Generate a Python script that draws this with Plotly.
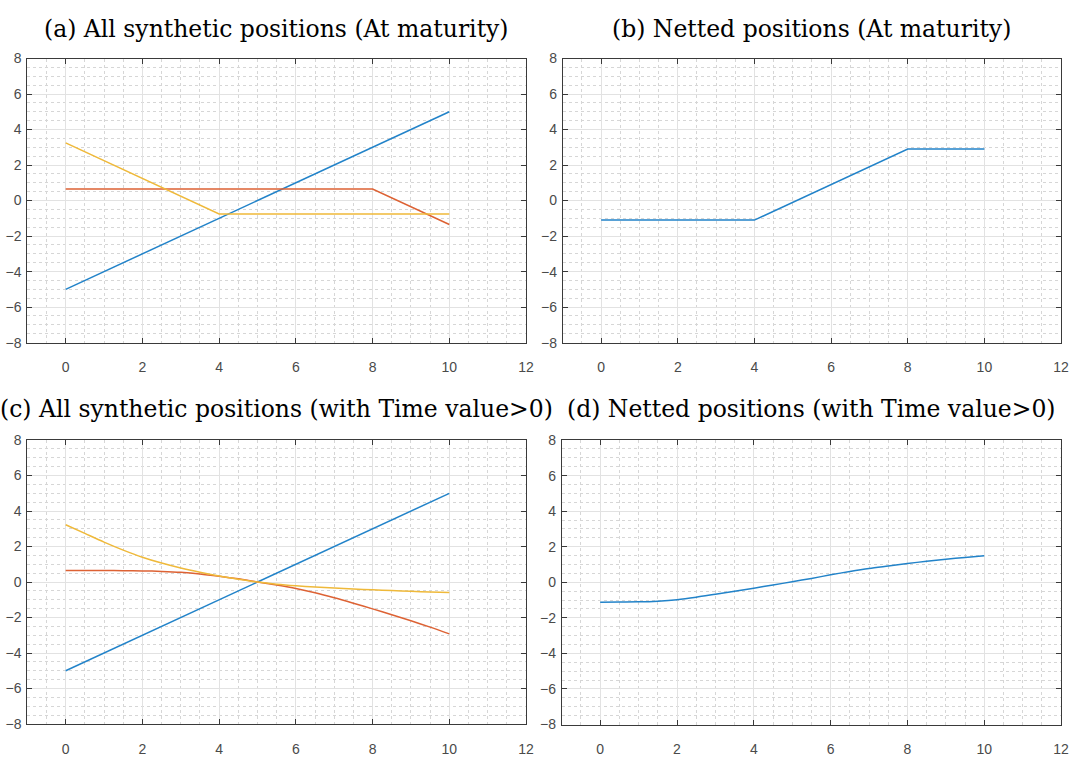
import plotly.graph_objects as go

# ---------------- data ----------------
# (a) At maturity
stock_x = [0, 10]
stock_y = [-5, 5]
call_mat_x = [0, 8, 10]
call_mat_y = [0.65, 0.65, -1.35]
put_mat_x = [0, 4, 10]
put_mat_y = [3.25, -0.75, -0.75]

# (b) Netted at maturity
net_mat_x = [0, 4, 8, 10]
net_mat_y = [-1.1, -1.1, 2.9, 2.9]

# (c) With time value
s_grid = [0, 0.5, 1, 1.5, 2, 2.5, 3, 3.5, 4, 4.5, 5,
          5.5, 6, 6.5, 7, 7.5, 8, 8.5, 9, 9.5, 10]
stock_tv = [-5, -4.5, -4, -3.5, -3, -2.5, -2, -1.5, -1, -0.5, 0,
            0.5, 1, 1.5, 2, 2.5, 3, 3.5, 4, 4.5, 5]
call_tv = [0.65, 0.65, 0.65, 0.64, 0.63, 0.60, 0.55, 0.46, 0.33, 0.18, 0.00,
           -0.17, -0.36, -0.60, -0.88, -1.19, -1.51, -1.84, -2.18, -2.54, -2.92]
put_tv = [3.23, 2.74, 2.25, 1.80, 1.40, 1.07, 0.79, 0.55, 0.34, 0.16, 0.00,
          -0.12, -0.21, -0.28, -0.34, -0.39, -0.44, -0.48, -0.52, -0.56, -0.59]

# (d) Netted with time value
net_tv = [-1.12, -1.11, -1.10, -1.06, -0.98, -0.84, -0.67, -0.50, -0.33, -0.15, 0.03,
          0.22, 0.42, 0.61, 0.78, 0.92, 1.06, 1.18, 1.30, 1.40, 1.50]

x_ticks = [0, 2, 4, 6, 8, 10, 12]
y_ticks = [-8, -6, -4, -2, 0, 2, 4, 6, 8]

titles = ["(a) All synthetic positions (At maturity)",
          "(b) Netted positions (At maturity)",
          "(c) All synthetic positions (with Time value>0)",
          "(d) Netted positions (with Time value>0)"]

# ---------------- style ----------------
BLUE = "#2283c9"
ORANGE = "#dd6234"
YELLOW = "#efb93a"
LW = 1.5

W, H = 1077, 757
fig = go.Figure()

def add(x, y, color, ax, smooth=False):
    line = dict(color=color, width=LW)
    if smooth:
        line.update(shape="spline", smoothing=0.8)
    fig.add_trace(go.Scatter(x=x, y=y, mode="lines", line=line,
                             xaxis="x" + ax, yaxis="y" + ax,
                             showlegend=False, hoverinfo="skip"))

add(stock_x, stock_y, BLUE, "")
add(call_mat_x, call_mat_y, ORANGE, "")
add(put_mat_x, put_mat_y, YELLOW, "")
add(net_mat_x, net_mat_y, BLUE, "2")
add(s_grid, stock_tv, BLUE, "3")
add(s_grid, call_tv, ORANGE, "3", True)
add(s_grid, put_tv, YELLOW, "3", True)
add(s_grid, net_tv, BLUE, "4", True)

# domains in pixels
xdoms = [(27.5, 530), (567, 1069), (27.5, 530), (566, 1069)]
ydoms = [(51.7, 342.3), (51.7, 342.3), (442, 732.5), (442, 733)]

def axis_common():
    return dict(showline=True, linecolor="#3a3a3a", linewidth=1, mirror="allticks",
                ticks="inside", ticklen=5, tickcolor="#3a3a3a", tickwidth=1,
                showgrid=True, gridcolor="#e2e2e2", gridwidth=1,
                zeroline=False,
                tickfont=dict(family="Liberation Sans, Arial", size=14, color="#4a4a4a"),
                minor=dict(dtick=0.5, showgrid=True, gridcolor="#d6d6d6",
                           griddash="dot", gridwidth=1, ticks=""))

layout = dict(width=W, height=H, margin=dict(l=0, r=0, t=0, b=0),
              paper_bgcolor="white", plot_bgcolor="white", showlegend=False)
annotations = []
for i in range(4):
    sfx = "" if i == 0 else str(i + 1)
    x0, x1 = xdoms[i]
    y0, y1 = ydoms[i]
    xa = axis_common()
    xa.update(domain=[x0 / W, x1 / W], range=[-1, 12], tickvals=x_ticks,
              anchor="y" + sfx, ticklabelstandoff=12)
    ya = axis_common()
    ya.update(domain=[1 - y1 / H, 1 - y0 / H], range=[-8, 8], tickvals=y_ticks,
              anchor="x" + sfx, ticklabelstandoff=2)
    layout["xaxis" + sfx] = xa
    layout["yaxis" + sfx] = ya
    cy = 21 if i < 2 else 410
    annotations.append(dict(text=titles[i], xref="paper", yref="paper",
                            x=(x0 + x1) / 2 / W, y=1 - cy / H,
                            xanchor="center", yanchor="middle", showarrow=False,
                            font=dict(family="DejaVu Serif, serif", size=23.5,
                                      color="black")))
layout["annotations"] = annotations
fig.update_layout(**layout)
fig.write_html("out.html", config={"displayModeBar": False},
               post_script="document.body.style.margin='0';document.body.style.padding='0';")
